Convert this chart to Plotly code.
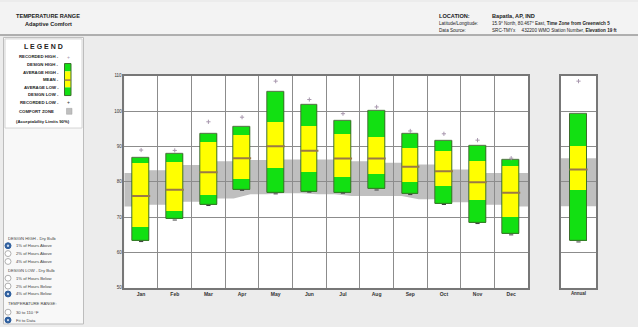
import plotly.graph_objects as go

# ---- monthly temperature statistics (°F) ----
months = ["Jan", "Feb", "Mar", "Apr", "May", "Jun", "Jul", "Aug", "Sep", "Oct", "Nov", "Dec"]
recorded_high = [89.0, 88.9, 97.0, 98.3, 108.5, 103.3, 99.3, 101.2, 94.4, 93.6, 91.8, 86.7]
design_high = [86.8, 87.8, 93.7, 95.7, 105.4, 101.9, 97.3, 100.0, 93.6, 91.6, 90.1, 86.2]
average_high = [85.5, 85.8, 91.2, 93.2, 97.1, 95.8, 93.5, 92.7, 89.6, 88.7, 86.0, 84.6]
mean_temp = [76.0, 77.8, 82.7, 86.7, 90.1, 88.8, 86.6, 86.6, 84.3, 83.0, 79.9, 76.9]
average_low = [67.4, 71.7, 76.3, 80.9, 84.1, 82.7, 81.5, 82.4, 80.1, 78.8, 75.0, 70.1]
design_low = [63.3, 69.4, 73.5, 77.8, 76.8, 77.3, 77.0, 77.9, 76.6, 73.8, 68.4, 65.2]
recorded_low = [63.1, 69.2, 73.3, 77.6, 76.6, 77.1, 76.8, 77.7, 76.4, 73.6, 68.2, 65.0]

# comfort zone limits at month boundaries (left edge, 11 inner boundaries, right edge)
comfort_upper = [82.5, 83.3, 84.8, 85.8, 86.2, 86.3, 86.3, 85.8, 85.4, 84.9, 83.5, 82.5, 82.5]
comfort_lower = [73.0, 73.5, 74.4, 75.3, 76.5, 76.8, 76.5, 76.0, 76.0, 75.1, 74.2, 73.5, 73.0]

# ---- annual statistics ----
annual_label = ["Annual"]
annual_recorded_high = [108.5]
annual_design_high = [99.2]
annual_average_high = [90.2]
annual_mean = [83.5]
annual_average_low = [77.6]
annual_design_low = [63.3]
annual_recorded_low = [63.0]
annual_comfort = [73.1, 86.7]

y_ticks = [50, 60, 70, 80, 90, 100, 110]

W, H = 638, 327
FONT = "Liberation Sans, Arial, sans-serif"
GREEN = "#12e012"
YELLOW = "#ffff00"
EDGE = "#3c6e2c"
MEAN_C = "#9a7a46"
GRAY = "#bfbfbf"
REC_HI_C = "#a898ae"
REC_LO_C = "#3a3a3a"
BOX_W = 0.5


def px(x):
    return x / W


def py(y):
    return 1 - y / H


fig = go.Figure()


def add_boxes(x, dh, ah, mn, al, dl, rh, rl, xa, ya):
    segs = [
        (ah, [a - b for a, b in zip(dh, ah)], GREEN),
        (mn, [a - b for a, b in zip(ah, mn)], YELLOW),
        (al, [a - b for a, b in zip(mn, al)], YELLOW),
        (dl, [a - b for a, b in zip(al, dl)], GREEN),
    ]
    for base, height, col in segs:
        fig.add_trace(go.Bar(x=x, y=height, base=base, width=BOX_W, marker=dict(color=col, line=dict(width=0)),
                             xaxis=xa, yaxis=ya, showlegend=False, hoverinfo="skip"))
    fig.add_trace(go.Bar(x=x, y=[a - b for a, b in zip(dh, dl)], base=dl, width=BOX_W,
                         marker=dict(color="rgba(0,0,0,0)", line=dict(color=EDGE, width=1)),
                         xaxis=xa, yaxis=ya, showlegend=False, hoverinfo="skip"))
    fig.add_trace(go.Scatter(x=x, y=mn, mode="markers",
                             marker=dict(symbol="line-ew-open", size=13, color=MEAN_C,
                                         line=dict(color=MEAN_C, width=2)),
                             xaxis=xa, yaxis=ya, showlegend=False, hoverinfo="skip"))
    fig.add_trace(go.Scatter(x=x, y=rh, mode="markers",
                             marker=dict(symbol="cross-thin-open", size=3, color=REC_HI_C,
                                         line=dict(color=REC_HI_C, width=1)),
                             xaxis=xa, yaxis=ya, showlegend=False, hoverinfo="skip"))
    fig.add_trace(go.Scatter(x=x, y=rl, mode="markers",
                             marker=dict(symbol="line-ew-open", size=3, color=REC_LO_C,
                                         line=dict(color=REC_LO_C, width=1)),
                             xaxis=xa, yaxis=ya, showlegend=False, hoverinfo="skip"))


xi = list(range(len(months)))
add_boxes(xi, design_high, average_high, mean_temp, average_low, design_low,
          recorded_high, recorded_low, "x", "y")
add_boxes([0], annual_design_high, annual_average_high, annual_mean, annual_average_low,
          annual_design_low, annual_recorded_high, annual_recorded_low, "x2", "y2")

# ---- comfort zone band (stepped between the boxes, under the gridlines) ----
n = len(months)
upper_pts, lower_pts = [], []
for b in range(n + 1):
    x0 = max(-0.5, b - 0.5 - BOX_W / 2)
    x1 = min(n - 0.5, b - 0.5 + BOX_W / 2)
    upper_pts += [(x0, comfort_upper[b]), (x1, comfort_upper[b])]
    lower_pts += [(x0, comfort_lower[b]), (x1, comfort_lower[b])]
pts = upper_pts + lower_pts[::-1]
path = "M " + " L ".join(f"{x},{y}" for x, y in pts) + " Z"
shapes = [dict(type="path", path=path, xref="x", yref="y", fillcolor=GRAY, line=dict(width=0), layer="below")]
shapes.append(dict(type="rect", xref="x2", yref="y2", x0=-0.5, x1=0.5, y0=annual_comfort[0], y1=annual_comfort[1],
                   fillcolor=GRAY, line=dict(width=0), layer="below"))

# ---- page panels ----
shapes += [
    dict(type="rect", xref="paper", yref="paper", x0=0, x1=1, y0=py(33), y1=1,
         fillcolor="#f3f3f3", line=dict(width=0), layer="below"),
    dict(type="line", xref="paper", yref="paper", x0=0, x1=1, y0=py(33.5), y1=py(33.5),
         line=dict(color="#9a9a9a", width=1.5)),
    dict(type="rect", xref="paper", yref="paper", x0=px(3.5), x1=px(83.5), y0=0, y1=py(36),
         fillcolor="#f8f8f8", line=dict(color="#bdbdbd", width=1), layer="below"),
    dict(type="rect", xref="paper", yref="paper", x0=px(5), x1=px(82), y0=py(128), y1=py(37.5),
         fillcolor="#ffffff", line=dict(color="#d4d4d4", width=1), layer="below"),
]

# legend colour bar
leg_bar = [(62.5, 70.5, GREEN), (70.5, 79.3, YELLOW), (79.3, 86.7, YELLOW), (86.7, 95.0, GREEN)]
for y0, y1, col in leg_bar:
    shapes.append(dict(type="rect", xref="paper", yref="paper", x0=px(64.5), x1=px(71), y0=py(y1), y1=py(y0),
                       fillcolor=col, line=dict(width=0)))
shapes.append(dict(type="rect", xref="paper", yref="paper", x0=px(64.5), x1=px(71), y0=py(95), y1=py(62.5),
                   fillcolor="rgba(0,0,0,0)", line=dict(color=EDGE, width=1)))
shapes.append(dict(type="line", xref="paper", yref="paper", x0=px(64.5), x1=px(71), y0=py(79.3), y1=py(79.3),
                   line=dict(color=MEAN_C, width=1.5)))
shapes.append(dict(type="rect", xref="paper", yref="paper", x0=px(66.5), x1=px(72), y0=py(114), y1=py(108),
                   fillcolor=GRAY, line=dict(color="#a0a0a0", width=0.5)))

ann = []


def txt(x, y, s, size=5, bold=False, anchor="left", color="#333333"):
    if bold:
        s = f"<b>{s}</b>"
    ann.append(dict(x=px(x), y=py(y), xref="paper", yref="paper", text=s, showarrow=False,
                    xanchor=anchor, yanchor="middle", font=dict(family=FONT, size=size, color=color)))


# header
txt(48, 14.5, "TEMPERATURE RANGE", 5.6, True, "center", "#222")
txt(48, 22.5, "Adaptive Comfort", 5.6, True, "center", "#222")
txt(437, 14.5, "LOCATION:", 5.6, True, "left", "#222")
txt(490, 14.5, "Bapatla, AP, IND", 5.6, True, "left", "#222")
txt(437, 22, "Latitude/Longitude:", 4.6, False, "left", "#222")
txt(490, 22, "15.9° North, 80.467° East, <b>Time Zone from Greenwich 5</b>", 4.6, False, "left", "#222")
txt(437, 28.5, "Data Source:", 4.6, False, "left", "#222")
txt(490, 28.5, "SRC-TMYx&nbsp;&nbsp;&nbsp;&nbsp;&nbsp;432200 WMO Station Number, <b>Elevation 19 ft</b>",
    4.6, False, "left", "#222")

# legend
txt(43, 45.5, "L E G E N D", 7, True, "center", "#222")
legend_rows = [("RECORDED HIGH -", 55.7), ("DESIGN HIGH -", 63.3), ("AVERAGE HIGH -", 71.3), ("MEAN -", 79.0),
               ("AVERAGE LOW -", 86.7), ("DESIGN LOW -", 94.0), ("RECORDED LOW -", 101.7)]
for s, y in legend_rows:
    txt(61, y, s, 4.3, True, "right", "#222")
txt(68, 55.5, "+", 5, False, "center", REC_HI_C)
txt(68, 101.5, "+", 5, False, "center", "#333")
txt(56, 111, "COMFORT ZONE", 4.3, True, "right", "#222")
txt(43, 121, "(Acceptability Limits 90%)", 4.3, True, "center", "#222")

# option panel
options = [
    ("head", "DESIGN HIGH - Dry Bulb", 240, False),
    ("opt", "1% of Hours Above", 247.5, True),
    ("opt", "2% of Hours Above", 255.5, False),
    ("opt", "4% of Hours Above", 263.5, False),
    ("head", "DESIGN LOW - Dry Bulb", 272.5, False),
    ("opt", "1% of Hours Below", 280.5, False),
    ("opt", "2% of Hours Below", 288.5, False),
    ("opt", "4% of Hours Below", 296.5, True),
    ("head", "TEMPERATURE RANGE:", 306, False),
    ("opt", "30 to 110 °F", 315, False),
    ("opt", "Fit to Data", 323, True),
]
for kind, s, y, sel in options:
    if kind == "head":
        txt(6, y, s, 4.2, False, "left", "#444")
    else:
        txt(14, y, s, 4.2, False, "left", "#444")
        shapes.append(dict(type="circle", xref="paper", yref="paper", x0=px(5), x1=px(11), y0=py(y + 3), y1=py(y - 3),
                           fillcolor="#2f5f9e" if sel else "#ffffff",
                           line=dict(color="#2f5f9e" if sel else "#b0b0b0", width=1)))
        if sel:
            shapes.append(dict(type="circle", xref="paper", yref="paper", x0=px(6.8), x1=px(9.2),
                               y0=py(y + 1.2), y1=py(y - 1.2), fillcolor="#c8d8ee", line=dict(width=0)))

main_dom = [px(124.3), px(528)]
ann_dom = [px(561), px(596)]
y_dom = [py(290.3), py(75)]

axis_common = dict(showline=True, mirror=True, linecolor="#777777", linewidth=1.5, zeroline=False)

fig.update_layout(
    width=W, height=H, margin=dict(l=0, r=0, t=0, b=0),
    paper_bgcolor="#ececec", plot_bgcolor="#ffffff",
    barmode="overlay", bargap=0, showlegend=False,
    font=dict(family=FONT, size=5, color="#333"),
    xaxis=dict(domain=main_dom, range=[-0.5, n - 0.5], tickvals=xi, ticktext=[f"<b>{m}</b>" for m in months],
               showgrid=False, ticks="", tickfont=dict(size=5, color="#333"),
               minor=dict(tickvals=[i + 0.5 for i in range(n - 1)], showgrid=True, gridcolor="#8c8c8c",
                          gridwidth=1, ticks=""),
               anchor="y", **axis_common),
    yaxis=dict(domain=y_dom, range=[50, 110], tickvals=y_ticks, ticktext=[str(v) for v in y_ticks],
               showgrid=True, gridcolor="#8c8c8c", gridwidth=1, ticks="", tickfont=dict(size=4.5, color="#333"),
               anchor="x", **axis_common),
    xaxis2=dict(domain=ann_dom, range=[-0.5, 0.5], tickvals=[0], ticktext=[f"<b>{a}</b>" for a in annual_label],
                showgrid=False, ticks="", tickfont=dict(size=4.5, color="#333"), anchor="y2", **axis_common),
    yaxis2=dict(domain=y_dom, range=[50, 110], tickvals=y_ticks, showticklabels=False, showgrid=True,
                gridcolor="#8c8c8c", gridwidth=1, ticks="", anchor="x2", **axis_common),
    shapes=shapes,
    annotations=ann,
)

fig.write_html("out.html")
